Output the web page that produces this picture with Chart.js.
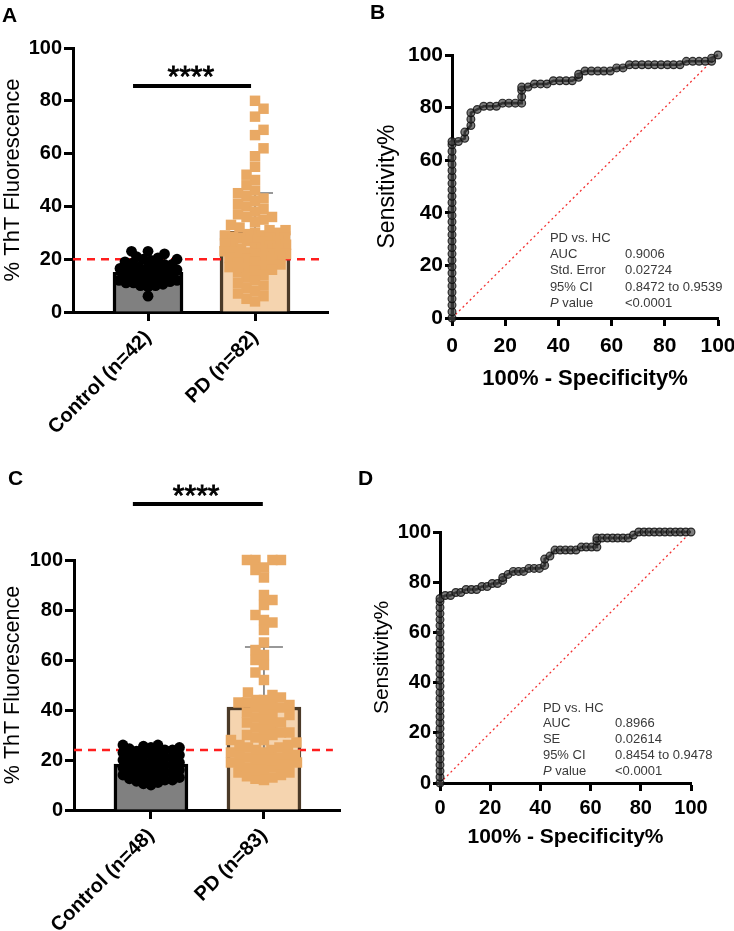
<!DOCTYPE html>
<html><head><meta charset="utf-8">
<script src="https://cdn.jsdelivr.net/npm/chart.js@4.4.1/dist/chart.umd.min.js"></script>
<style>
html,body{margin:0;padding:0;background:#fff;}
body{width:734px;height:931px;position:relative;overflow:hidden;font-family:"Liberation Sans",Arial,sans-serif;}
.pane{position:absolute;}
.pane canvas{display:block;}
.lbl{position:absolute;font:bold 21px "Liberation Sans",Arial,sans-serif;line-height:21px;color:#000;}
</style></head><body>
<div class="pane" style="left:0;top:0;width:367px;height:460px"><canvas id="cA" width="367" height="460"></canvas></div>
<div class="pane" style="left:367px;top:0;width:367px;height:460px"><canvas id="cB" width="367" height="460"></canvas></div>
<div class="pane" style="left:0;top:460px;width:367px;height:471px"><canvas id="cC" width="367" height="471"></canvas></div>
<div class="pane" style="left:367px;top:460px;width:367px;height:471px"><canvas id="cD" width="367" height="471"></canvas></div>
<div class="lbl" style="left:2px;top:4px">A</div>
<div class="lbl" style="left:370px;top:1px">B</div>
<div class="lbl" style="left:8px;top:467px">C</div>
<div class="lbl" style="left:358px;top:467px">D</div>
<script>
// ---------- DATA ----------
const yTicks = [0, 20, 40, 60, 80, 100];
const rocTicks = [0, 20, 40, 60, 80, 100];

const categoriesA = ['Control (n=42)', 'PD (n=82)'];
const controlA = [6, 9.5, 10, 10, 10.5, 11, 11, 11.5, 12, 12, 12, 12.5, 13, 13, 13, 13.5, 14, 14, 14, 14.5, 15, 15, 15, 15.5, 16, 16, 16.5, 17, 17, 17.5, 18, 18, 18.5, 19, 19.5, 20, 20, 20.5, 21, 22, 23, 23];
const pdA = [80, 77, 74, 69, 67, 62, 59, 55, 52, 50, 48, 46, 45, 44, 43, 42, 41, 40, 39, 38, 37, 36, 36, 35, 34, 33, 32, 31, 31, 30, 30, 29.5, 29, 29, 28.5, 28, 28, 28, 27.5, 27, 27, 26.5, 26, 26, 25.5, 25, 24.5, 24, 24, 23.5, 23, 23, 22.5, 22, 22, 22, 21.5, 21, 21, 20.5, 20, 19.5, 19, 18.5, 18, 17.5, 17, 16.5, 16, 15.5, 15, 14, 13, 12, 11, 10, 9, 8, 7, 6, 5, 4];
const meansA = [15.0, 30.6];
const sdA = [4.0, 14.5];
const cutoffA = 20;

const categoriesC = ['Control (n=48)', 'PD (n=83)'];
const controlC = [10, 10.5, 11, 11.5, 12, 12, 12.5, 13, 13, 13.5, 14, 14, 14.5, 15, 15, 15.5, 16, 16, 16.5, 17, 17, 17.5, 18, 18, 18.5, 19, 19, 19.5, 20, 20, 20.5, 21, 21, 21.5, 22, 22, 22.5, 23, 23, 23.5, 24, 24, 24.5, 25, 25, 25.5, 26, 26];
const pdC = [100, 100, 100, 100, 97, 96, 93, 86, 84, 82, 78, 76, 75, 72, 67, 64, 62, 60, 58, 55, 52, 47, 46, 45, 44, 44, 43, 43, 42, 42, 41, 41, 40, 39, 38, 37, 36, 35, 34, 33, 32, 31, 31, 30, 30, 29, 28, 27, 26, 25, 25, 24, 24, 23, 23, 22, 22, 21, 21, 20, 20, 19, 19, 18, 18, 17, 17, 16, 15, 14, 13.5, 13, 12.5, 12, 15, 16, 18, 20, 22, 26, 28, 35, 38];
const meansC = [18.4, 41.2];
const sdC = [4.5, 24.0];
const cutoffC = 24;

// ROC curves: [100% - Specificity%, Sensitivity%]
const rocB = [[0,0],[0,2.4],[0,4.9],[0,7.3],[0,9.8],[0,12.2],[0,14.6],[0,17.1],[0,19.5],[0,22],[0,24.4],[0,26.8],[0,29.3],[0,31.7],[0,34.1],[0,36.6],[0,39],[0,41.5],[0,43.9],[0,46.3],[0,48.8],[0,51.2],[0,53.7],[0,56.1],[0,58.5],[0,61],[0,63.4],[0,65.9],[0,67.1],
 [2.4,67.1],[4.8,68.3],[4.8,70.7],[7.1,73.2],[7.1,75.6],[7.1,78],[9.5,79.3],[11.9,80.5],[14.3,80.5],[16.7,80.5],[19,81.7],[21.4,81.7],[23.8,81.7],[26.2,81.7],[26.2,84.1],[26.2,86.6],[26.2,87.8],[28.6,87.8],[31,89],[33.3,89],[35.7,89],[38.1,90.2],[40.5,90.2],[42.9,90.2],[45.2,90.2],[47.6,91.5],[47.6,92.7],[50,93.9],[52.4,93.9],[54.8,93.9],[57.1,93.9],[59.5,93.9],[61.9,95.1],[64.3,95.1],[66.7,96.3],[69,96.3],[71.4,96.3],[73.8,96.3],[76.2,96.3],[78.6,96.3],[81,96.3],[83.3,96.3],[85.7,96.3],[88.1,97.6],[90.5,97.6],[92.9,97.6],[95.2,97.6],[97.6,97.6],[97.6,98.8],[100,100]];
const rocD = [[0,0],[0,2.4],[0,4.8],[0,7.2],[0,9.6],[0,12],[0,14.5],[0,16.9],[0,19.3],[0,21.7],[0,24.1],[0,26.5],[0,28.9],[0,31.3],[0,33.7],[0,36.1],[0,38.6],[0,41],[0,43.4],[0,45.8],[0,48.2],[0,50.6],[0,53],[0,55.4],[0,57.8],[0,60.2],[0,62.7],[0,65.1],[0,67.5],[0,69.9],[0,72.3],[0,73.5],
 [2.1,74.7],[4.2,74.7],[6.3,75.9],[8.3,75.9],[10.4,77.1],[12.5,77.1],[14.6,77.1],[16.7,78.3],[18.8,78.3],[20.8,79.5],[22.9,79.5],[25,80.7],[25,81.9],[27.1,83.1],[29.2,84.3],[31.3,84.3],[33.3,84.3],[35.4,85.5],[37.5,85.5],[39.6,85.5],[41.7,86.7],[41.7,89.2],[43.8,90.4],[45.8,92.8],[47.9,92.8],[50,92.8],[52.1,92.8],[54.2,92.8],[56.3,94],[58.3,94],[60.4,94],[62.5,94],[62.5,96.4],[62.5,97.6],[64.6,97.6],[66.7,97.6],[68.8,97.6],[70.8,97.6],[72.9,97.6],[75,97.6],[77.1,98.8],[79.2,100],[81.3,100],[83.3,100],[85.4,100],[87.5,100],[89.6,100],[91.7,100],[93.8,100],[95.8,100],[97.9,100],[100,100]];
const diagonal = [[0,0],[100,100]];

const statsB_title = 'PD vs. HC';
const statsB_labels = ['AUC', 'Std. Error', '95% CI', 'P value'];
const statsB_values = ['0.9006', '0.02724', '0.8472 to 0.9539', '<0.0001'];
const statsD_title = 'PD vs. HC';
const statsD_labels = ['AUC', 'SE', '95% CI', 'P value'];
const statsD_values = ['0.8966', '0.02614', '0.8454 to 0.9478', '<0.0001'];
const sigText = '****';

// ---------- PLUGINS ----------
const FONT = '"Liberation Sans", Arial, sans-serif';
const errorBarPlugin = {
  id: 'errorBars',
  afterDatasetDraw(chart, args, o) {
    if (!o || !o.means || args.index !== o.barIndex) return;
    const {ctx} = chart, x = chart.scales.x, y = chart.scales.y;
    o.means.forEach((m, i) => {
      const cx = x.getPixelForValue(i + 1);
      const t = y.getPixelForValue(m + o.sds[i]);
      const b = y.getPixelForValue(m - o.sds[i]);
      ctx.save();
      ctx.strokeStyle = o.colors[i]; ctx.lineWidth = 1.6;
      ctx.beginPath();
      ctx.moveTo(cx, t); ctx.lineTo(cx, b);
      ctx.moveTo(cx - o.cap, t); ctx.lineTo(cx + o.cap, t);
      ctx.moveTo(cx - o.cap, b); ctx.lineTo(cx + o.cap, b);
      ctx.stroke(); ctx.restore();
    });
  }
};
const annotPlugin = {
  id: 'annot',
  afterDraw(chart, args, o) {
    if (!o) return;
    const {ctx} = chart, x = chart.scales.x, y = chart.scales.y;
    if (o.sig) {
      const s = o.sig;
      ctx.save();
      ctx.strokeStyle = '#000'; ctx.lineWidth = 4;
      const yy = y.getPixelForValue(s.y);
      ctx.beginPath(); ctx.moveTo(x.getPixelForValue(s.x0), yy); ctx.lineTo(x.getPixelForValue(s.x1), yy); ctx.stroke();
      ctx.fillStyle = '#000'; ctx.font = '30px ' + FONT; ctx.textAlign = 'center'; ctx.textBaseline = 'alphabetic';
      ctx.lineWidth = 0.8; ctx.strokeStyle = '#000';
      const tx = x.getPixelForValue(s.tx), ty = y.getPixelForValue(s.ty) + 17;
      ctx.fillText(s.text, tx, ty);
      ctx.strokeText(s.text, tx, ty);
      ctx.restore();
    }
    if (o.stats) {
      const st = o.stats;
      ctx.save();
      ctx.fillStyle = '#3a3a3a'; ctx.textBaseline = 'middle'; ctx.textAlign = 'left';
      const x0 = x.getPixelForValue(st.x), x1 = x.getPixelForValue(st.xv), y0 = y.getPixelForValue(st.y);
      ctx.font = '13px ' + FONT;
      ctx.fillText(st.title, x0, y0);
      st.labels.forEach((lab, i) => {
        const yy = y0 + (i + 1) * st.dy;
        if (lab.startsWith('P ')) {
          ctx.font = 'italic 13px ' + FONT;
          ctx.fillText('P', x0, yy);
          const w = ctx.measureText('P').width;
          ctx.font = '13px ' + FONT;
          ctx.fillText(lab.slice(1), x0 + w, yy);
        } else {
          ctx.font = '13px ' + FONT;
          ctx.fillText(lab, x0, yy);
        }
        ctx.font = '13px ' + FONT;
        ctx.fillText(st.values[i], x1, yy);
      });
      ctx.restore();
    }
  }
};
Chart.register(errorBarPlugin, annotPlugin);
Chart.defaults.animation = false;
Chart.defaults.font.family = FONT;
Chart.defaults.color = '#000';

// bounded beeswarm layout (positions only, values unchanged)
function swarm(values, center, xs, ys, minDist, square, lim) {
  const ppu = xs.getPixelForValue(center + 1) - xs.getPixelForValue(center);
  const idx = values.map((v, i) => i).sort((a, b) => values[a] - values[b]);
  const placed = [], out = new Array(values.length);
  let flip = 1;
  const dist = (dx, py, p) => {
    const ax = Math.abs(dx - p.dx), ay = Math.abs(py - p.py);
    return square ? Math.max(ax, ay) : Math.hypot(ax, ay);
  };
  for (const i of idx) {
    const py = ys.getPixelForValue(values[i]);
    let best = null, bestScore = -1, bestDx = 0;
    for (let k = 0; k * 0.5 <= lim; k++) {
      const cands = k === 0 ? [0] : [flip * k * 0.5, -flip * k * 0.5];
      for (const dx of cands) {
        let m = Infinity;
        for (const p of placed) { const d = dist(dx, py, p); if (d < m) m = d; }
        if (m >= minDist) { best = dx; break; }
        if (m > bestScore + 0.01) { bestScore = m; bestDx = dx; }
      }
      if (best !== null) break;
    }
    if (best === null) best = bestDx;
    flip = -flip;
    placed.push({dx: best, py});
    out[i] = {x: center + best / ppu, y: values[i]};
  }
  return out;
}

function barPanel(id, p) {
  const chart = new Chart(document.getElementById(id), {
    type: 'scatter',
    data: {datasets: [
      {type: 'scatter', label: 'PD', data: p.pd.map(v => ({x: 2, y: v})), pointStyle: 'rect', pointRadius: 7.4, pointHoverRadius: 7.4,
        backgroundColor: '#E9A964', borderColor: '#E9A964', borderWidth: 0, order: 1, clip: false},
      {type: 'scatter', label: 'Control', data: p.control.map(v => ({x: 1, y: v})), pointStyle: 'circle', pointRadius: 5.4, pointHoverRadius: 5.4,
        backgroundColor: '#000', borderColor: '#000', borderWidth: 0, order: 2, clip: false},
      {type: 'line', label: 'cutoff', data: [{x: p.xmin, y: p.cut}, {x: p.cutEnd, y: p.cut}], borderColor: '#FF1E1E', borderWidth: 2.6,
        borderDash: [8, 6], pointRadius: 0, order: 3, clip: false},
      {type: 'bar', label: 'mean', data: p.means.map((m, i) => ({x: i + 1, y: m})), backgroundColor: ['#808080', '#F5D4AF'],
        borderColor: ['#000', '#4B3A28'], borderWidth: 3.5, borderSkipped: 'start', barThickness: p.barW, order: 4}
    ]},
    options: {
      responsive: false, animation: false,
      layout: {padding: {top: p.padTop, right: p.padRight, left: 0, bottom: 0}},
      plugins: {legend: {display: false}, tooltip: {enabled: false},
        errorBars: {means: p.means, sds: p.sds, colors: ['#111', '#777'], cap: p.cap, barIndex: 3},
        annot: {sig: p.sig}},
      scales: {
        x: {type: 'linear', min: p.xmin, max: p.xmax, offset: false,
          afterBuildTicks: s => { s.ticks = p.cats.map((c, i) => ({value: i + 1})); },
          afterFit: s => { s.height = p.xh; s.paddingLeft = 0; s.paddingRight = 0; },
          grid: {drawOnChartArea: false, drawTicks: true, tickLength: 9, tickWidth: 3, tickColor: '#000', offset: false},
          border: {display: true, color: '#000', width: 3},
          ticks: {autoSkip: false, maxRotation: 45, minRotation: 45, padding: 5, color: '#000',
            font: {family: FONT, weight: 'bold', size: 20}, callback: v => p.cats[Math.round(v) - 1]}},
        y: {type: 'linear', min: 0, max: 100,
          afterBuildTicks: s => { s.ticks = yTicks.map(v => ({value: v})); },
          afterFit: s => { s.width = p.yw; s.paddingTop = 0; s.paddingBottom = 0; },
          grid: {drawOnChartArea: false, tickLength: 9, tickWidth: 3, tickColor: '#000'},
          border: {display: true, color: '#000', width: 3},
          ticks: {padding: 2, color: '#000', font: {family: FONT, weight: 'bold', size: 20}},
          title: {display: true, text: '% ThT Fluorescence', color: '#000', font: {family: FONT, size: p.ytSize}, padding: {top: 0, bottom: 0}}}
      }
    }
  });
  const xs = chart.scales.x, ys = chart.scales.y;
  chart.data.datasets[0].data = swarm(p.pd, 2, xs, ys, 8.2, true, p.limPD);
  chart.data.datasets[1].data = swarm(p.control, 1, xs, ys, 7.2, false, p.limC);
  chart.update('none');
  return chart;
}

function rocPanel(id, p) {
  return new Chart(document.getElementById(id), {
    type: 'scatter',
    data: {datasets: [
      {type: 'line', label: 'ROC', data: p.pts.map(([x, y]) => ({x, y})), borderColor: '#0d0d0d', borderWidth: 2.6, tension: 0,
        pointRadius: 3.9, pointHoverRadius: 3.9, pointBackgroundColor: 'rgba(70,70,70,0.7)', pointBorderColor: 'rgba(10,10,10,0.8)',
        pointBorderWidth: 1.2, clip: false, order: 1},
      {type: 'line', label: 'ref', data: diagonal.map(([x, y]) => ({x, y})), borderColor: '#F23232', borderWidth: 1.3,
        borderDash: [2, 3], pointRadius: 0, order: 2}
    ]},
    options: {
      responsive: false, animation: false,
      layout: {padding: {top: p.padTop, right: p.padRight, left: 0, bottom: 0}},
      plugins: {legend: {display: false}, tooltip: {enabled: false},
        annot: {stats: p.stats}},
      scales: {
        x: {type: 'linear', min: 0, max: 100,
          afterBuildTicks: s => { s.ticks = rocTicks.map(v => ({value: v})); },
          afterFit: s => { s.height = p.xh; s.paddingLeft = 0; s.paddingRight = 0; },
          grid: {drawOnChartArea: false, tickLength: 8, tickWidth: 3, tickColor: '#000'},
          border: {display: true, color: '#000', width: 3},
          ticks: {padding: p.xtPad, color: '#000', maxRotation: 0, autoSkip: false, font: {family: FONT, weight: 'bold', size: p.tickSize}},
          title: {display: true, text: '100% - Specificity%', color: '#000', font: {family: FONT, weight: 'bold', size: p.xtSize}, padding: {top: 0, bottom: p.xtitlePad}}},
        y: {type: 'linear', min: 0, max: 100,
          afterBuildTicks: s => { s.ticks = rocTicks.map(v => ({value: v})); },
          afterFit: s => { s.width = p.yw; s.paddingTop = 0; s.paddingBottom = 0; },
          grid: {drawOnChartArea: false, tickLength: 7, tickWidth: 3, tickColor: '#000'},
          border: {display: true, color: '#000', width: 3},
          ticks: {padding: 2, color: '#000', font: {family: FONT, weight: 'bold', size: p.tickSize}},
          title: {display: true, text: 'Sensitivity%', color: '#000', font: {family: FONT, size: p.ytSize}, padding: {top: p.ytitlePad, bottom: 0}}}
      }
    }
  });
}

barPanel('cA', {cats: categoriesA, control: controlA, pd: pdA, means: meansA, sds: sdA, cut: cutoffA,
  xmin: 0.299, xmax: 2.682, cutEnd: 2.61, padTop: 48, padRight: 39, xh: 148, yw: 73, barW: 70, cap: 18, ytSize: 22,
  limPD: 31, limC: 29,
  sig: {x0: 0.86, x1: 1.963, y: 85.6, tx: 1.40, ty: 92, text: sigText}});
barPanel('cC', {cats: categoriesC, control: controlC, pd: pdC, means: meansC, sds: sdC, cut: cutoffC,
  xmin: 0.319, xmax: 2.673, cutEnd: 2.61, padTop: 100, padRight: 27, xh: 121, yw: 74, barW: 74, cap: 19, ytSize: 21.5,
  limPD: 33, limC: 31,
  sig: {x0: 0.84, x1: 1.99, y: 122.4, tx: 1.40, ty: 128.8, text: sigText}});
rocPanel('cB', {pts: rocB, padTop: 55, padRight: 16, xh: 142, yw: 85, tickSize: 21, xtPad: 8, xtSize: 22, xtitlePad: 68, ytSize: 23, ytitlePad: 7,
  stats: {x: 36.8, xv: 65, y: 30.4, dy: 16.4, title: statsB_title, labels: statsB_labels, values: statsB_values}});
rocPanel('cD', {pts: rocD, padTop: 72, padRight: 43, xh: 148, yw: 73, tickSize: 20, xtPad: 5, xtSize: 21, xtitlePad: 81, ytSize: 21, ytitlePad: 3,
  stats: {x: 41, xv: 69.7, y: 29.9, dy: 15.9, title: statsD_title, labels: statsD_labels, values: statsD_values}});
</script>
</body></html>
